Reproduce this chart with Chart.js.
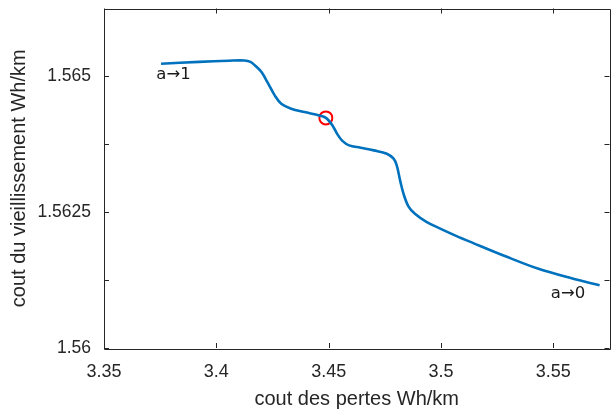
<!DOCTYPE html>
<html>
<head>
<meta charset="utf-8">
<script src="https://cdn.jsdelivr.net/npm/chart.js@4"></script>
<style>
html, body { margin:0; padding:0; background:#fff; overflow:hidden; }
#wrap { width:618px; height:409px; }
</style>
</head>
<body>
<div id="wrap"><canvas id="graph" width="618" height="409"></canvas></div>
<script>
// ---------------- DONNEES ----------------
const coutPertes = [3.3754, 3.3923, 3.4055, 3.4125, 3.4152, 3.4172, 3.4201, 3.4231, 3.4260,
  3.4289, 3.4333, 3.4392, 3.4458, 3.4488, 3.4517, 3.4539, 3.4561, 3.4591, 3.4642, 3.4701,
  3.4759, 3.4789, 3.4803, 3.4818, 3.4833, 3.4855, 3.4884, 3.4935, 3.4994, 3.5067, 3.5141,
  3.5287, 3.5434, 3.5581, 3.5706]
const coutVieil = [1.565234, 1.565267, 1.565289, 1.565294, 1.565267, 1.565202, 1.565079, 1.564866, 1.564650,
  1.564498, 1.564406, 1.564343, 1.564282, 1.564236, 1.564098, 1.563933, 1.563813, 1.563730, 1.563688, 1.563638,
  1.563577, 1.563485, 1.563362, 1.563086, 1.562841, 1.562608, 1.562470, 1.562322, 1.562203, 1.562065, 1.561936,
  1.561688, 1.561457, 1.561283, 1.561154]

const pointChoisi = [3.44875, 1.564236]

const xTicks = [3.35, 3.4, 3.45, 3.5, 3.55]
const yTicks = [1.56, 1.56125, 1.5625, 1.56375, 1.565, 1.56625]
const yLabels = ["1.56", "", "1.5625", "", "1.565", ""]

const annotTextes = ["a\u21921", "a\u21920"]
const annotX = [3.3733, 3.5489]
const annotY = [1.56503, 1.56100]

const axeCouleur = "#262626"

// ---------------- PLUGIN CADRE + ANNOTATIONS ----------------
const cadre = {
  id: "cadre",
  afterDatasetsDraw(chart) {
    const ctx = chart.ctx
    const a = chart.chartArea
    const sx = chart.scales.x
    const sy = chart.scales.y
    const tl = 5
    ctx.save()
    ctx.strokeStyle = axeCouleur
    ctx.lineWidth = 1
    ctx.beginPath()
    ctx.rect(Math.round(a.left) + 0.5, Math.round(a.top) + 0.5,
      Math.round(a.right - a.left), Math.round(a.bottom - a.top))
    xTicks.forEach(v => {
      const px = Math.round(sx.getPixelForValue(v)) + 0.5
      ctx.moveTo(px, a.bottom); ctx.lineTo(px, a.bottom - tl)
      ctx.moveTo(px, a.top); ctx.lineTo(px, a.top + tl)
    })
    yTicks.forEach(v => {
      const py = Math.round(sy.getPixelForValue(v)) + 0.5
      ctx.moveTo(a.left, py); ctx.lineTo(a.left + tl, py)
      ctx.moveTo(a.right, py); ctx.lineTo(a.right - tl, py)
    })
    ctx.stroke()

    ctx.fillStyle = "#1a1a1a"
    ctx.font = "16.5px 'DejaVu Sans'"
    ctx.textAlign = "left"
    ctx.textBaseline = "middle"
    annotTextes.forEach((t, i) => {
      ctx.fillText(t, sx.getPixelForValue(annotX[i]), sy.getPixelForValue(annotY[i]))
    })
    ctx.restore()
  }
}

// ---------------- GRAPHIQUE ----------------
new Chart(document.getElementById("graph"), {
  type: "scatter",
  data: {
    datasets: [{
      data: coutPertes.map((x, i) => ({ x: x, y: coutVieil[i] })),
      showLine: true,
      borderColor: "#0072BD",
      borderWidth: 2.6,
      pointRadius: 0,
      tension: 0.35
    }, {
      data: [{ x: pointChoisi[0], y: pointChoisi[1] }],
      pointRadius: 6.5,
      pointHoverRadius: 6.5,
      pointBorderWidth: 2,
      borderColor: "#FF0000",
      backgroundColor: "rgba(0,0,0,0)"
    }]
  },
  options: {
    responsive: false,
    animation: false,
    events: [],
    layout: { padding: { top: 7, right: 3, left: 0, bottom: 0 } },
    plugins: { legend: { display: false }, tooltip: { enabled: false } },
    scales: {
      x: {
        type: "linear",
        min: 3.35,
        max: 3.575,
        afterBuildTicks: s => { s.ticks = xTicks.map(v => ({ value: v })) },
        afterFit: s => {
          s.height = 61
          s.paddingLeft = 0; s.paddingRight = 0; s.paddingTop = 0; s.paddingBottom = 0
        },
        grid: { display: false, drawTicks: false },
        border: { display: false },
        ticks: {
          color: axeCouleur,
          padding: 13,
          maxRotation: 0,
          autoSkip: false,
          font: { family: "'Liberation Sans', Arial", size: 18 },
          callback: v => String(Number(v.toFixed(2)))
        },
        title: {
          display: true,
          text: "cout des pertes Wh/km",
          color: axeCouleur,
          padding: 0,
          font: { family: "'Liberation Sans', Arial", size: 20, lineHeight: 1 }
        }
      },
      y: {
        type: "linear",
        min: 1.56,
        max: 1.56625,
        afterBuildTicks: s => { s.ticks = yTicks.map(v => ({ value: v })) },
        afterFit: s => {
          s.width = 104
          s.paddingLeft = 0; s.paddingRight = 0; s.paddingTop = 0; s.paddingBottom = 0
        },
        grid: { display: false, drawTicks: false },
        border: { display: false },
        ticks: {
          color: axeCouleur,
          padding: 13,
          autoSkip: false,
          font: { family: "'Liberation Sans', Arial", size: 17.5 },
          callback: (v, i) => yLabels[i]
        },
        title: {
          display: true,
          text: "cout du vieillissement Wh/km",
          color: axeCouleur,
          padding: { top: 7.5, bottom: 0 },
          font: { family: "'Liberation Sans', Arial", size: 20 }
        }
      }
    }
  },
  plugins: [cadre]
})
</script>
</body>
</html>
